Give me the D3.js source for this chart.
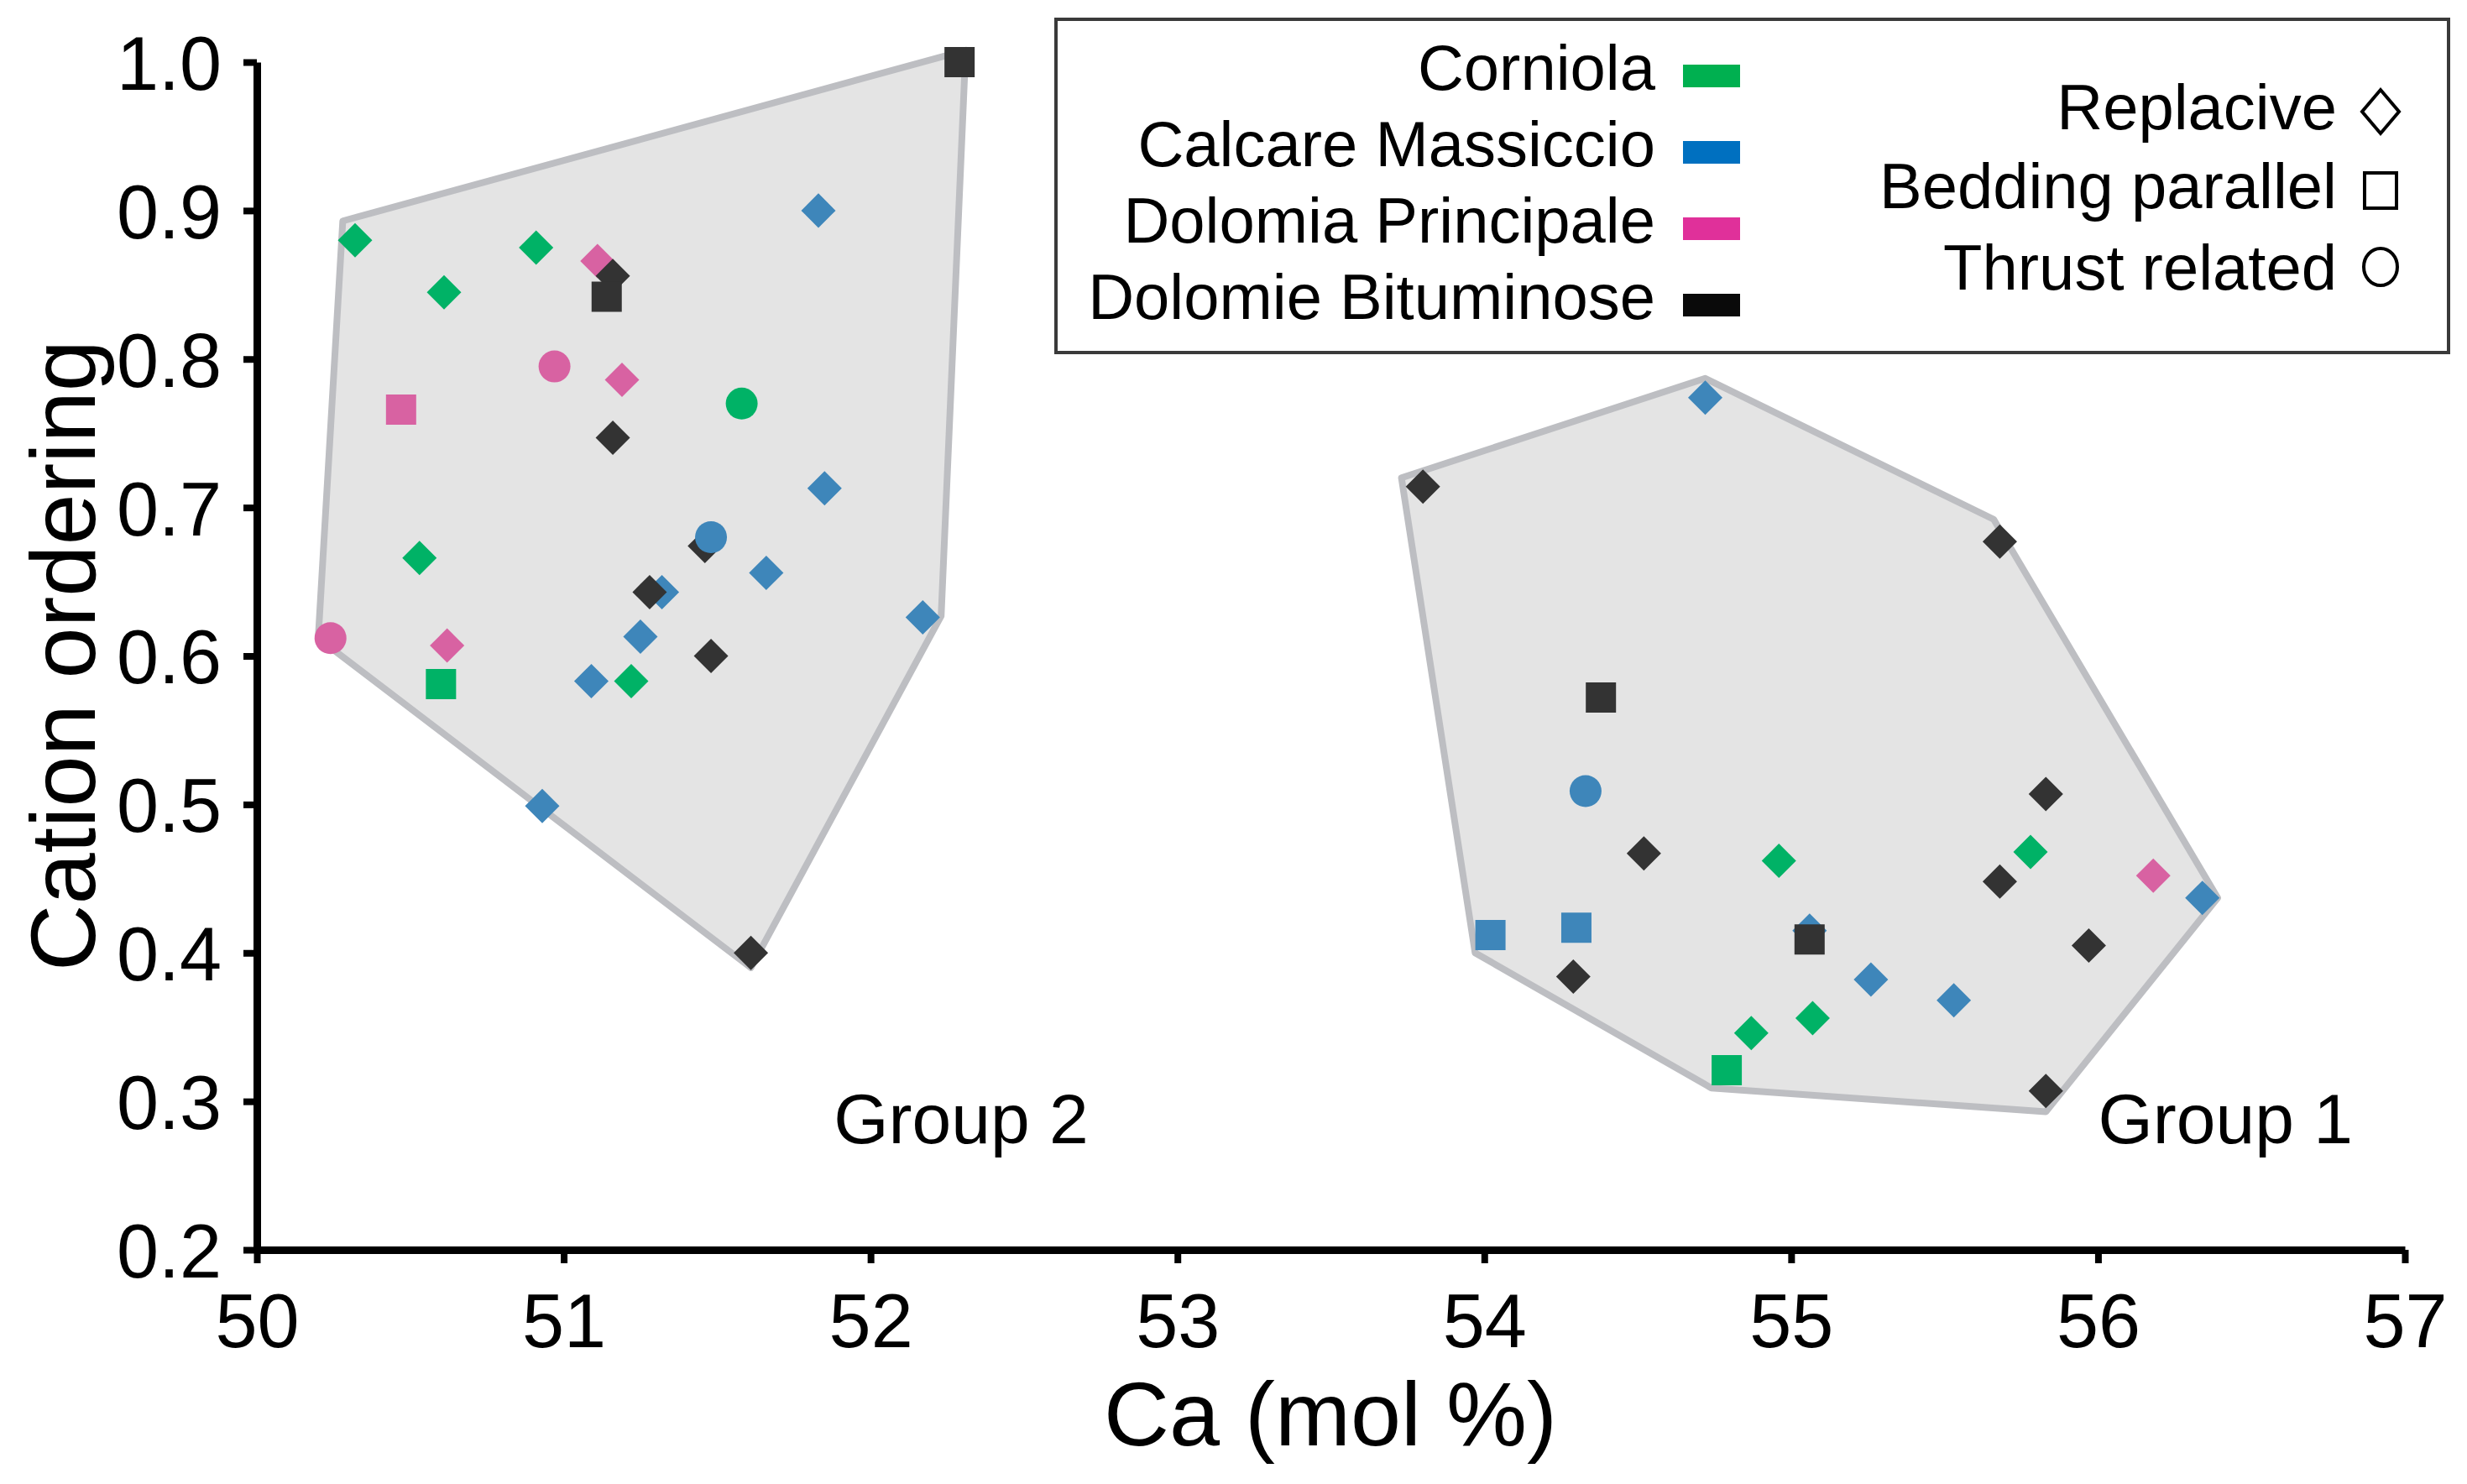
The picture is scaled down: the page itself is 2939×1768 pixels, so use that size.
<!DOCTYPE html>
<html><head><meta charset="utf-8">
<script src="https://cdn.jsdelivr.net/npm/d3@7"></script>
<style>
html,body{margin:0;padding:0;background:#fff;}
svg{display:block;font-family:"Liberation Sans",Arial,sans-serif;}
</style></head>
<body>
<svg id="chart" width="2939" height="1768"></svg>
<script>
// ---------- data (Ca mol %, cation ordering) ----------
const seriesNames = ["Corniola", "Calcare Massiccio", "Dolomia Principale", "Dolomie Bituminose"];
const typeNames = ["Replacive", "Bedding parallel", "Thrust related"];
const xTicks = [50, 51, 52, 53, 54, 55, 56, 57];
const yTicks = [0.2, 0.3, 0.4, 0.5, 0.6, 0.7, 0.8, 0.9, 1.0];

// [Ca, ordering, type]  type: R = replacive, B = bedding parallel, T = thrust related
const corniola = [
  [50.32,0.880,"R"],[50.91,0.875,"R"],[50.61,0.845,"R"],[50.53,0.666,"R"],[51.22,0.583,"R"],
  [54.96,0.462,"R"],[55.78,0.468,"R"],[55.07,0.356,"R"],[54.87,0.346,"R"],
  [50.60,0.581,"B"],[54.79,0.321,"B"],
  [51.58,0.770,"T"]
];
const calcareMassiccio = [
  [51.83,0.900,"R"],[51.85,0.713,"R"],[51.66,0.656,"R"],[51.32,0.643,"R"],[52.17,0.626,"R"],
  [51.25,0.613,"R"],[51.09,0.583,"R"],[50.93,0.499,"R"],[54.72,0.774,"R"],[56.34,0.437,"R"],
  [55.06,0.415,"R"],[55.26,0.382,"R"],[55.53,0.368,"R"],
  [54.02,0.412,"B"],[54.30,0.417,"B"],
  [51.48,0.680,"T"],[54.33,0.509,"T"]
];
const dolomiaPrincipale = [
  [51.11,0.866,"R"],[51.19,0.786,"R"],[50.62,0.607,"R"],[56.18,0.452,"R"],
  [50.47,0.766,"B"],
  [50.97,0.795,"T"],[50.24,0.612,"T"]
];
const dolomieBituminose = [
  [51.16,0.856,"R"],[51.16,0.747,"R"],[51.46,0.674,"R"],[51.28,0.643,"R"],[51.48,0.600,"R"],
  [51.61,0.400,"R"],[53.80,0.714,"R"],[55.68,0.677,"R"],[55.83,0.507,"R"],[54.52,0.467,"R"],
  [55.68,0.448,"R"],[55.97,0.405,"R"],[54.29,0.384,"R"],[55.83,0.307,"R"],
  [52.29,1.000,"B"],[51.14,0.842,"B"],[54.38,0.572,"B"],[55.06,0.409,"B"]
];
// convex hulls drawn around the two groups
const group2Hull = [[50.28,0.893],[52.31,1.008],[52.23,0.627],[51.61,0.390],[50.20,0.612]];
const group1Hull = [[53.73,0.720],[54.72,0.787],[55.66,0.692],[56.39,0.437],[55.83,0.293],[54.74,0.309],[53.97,0.400]];
const groupLabels = [["Group 2",51.88,0.272],["Group 1",56.0,0.272]];

// ---------- styles ----------
const pointColors = ["#00b266", "#3e86ba", "#d862a2", "#333333"];
const legendColors = ["#00b050", "#0070c0", "#e0309a", "#0a0a0a"];

const svg = d3.select("#chart");
const x = d3.scaleLinear().domain([50, 57]).range([306, 2865]);
const y = d3.scaleLinear().domain([0.2, 1.0]).range([1489, 74]);

// hulls
const line = d3.line().x(d => x(d[0])).y(d => y(d[1])).curve(d3.curveLinearClosed);
svg.selectAll("path.hull").data([group2Hull, group1Hull]).join("path")
  .attr("class","hull").attr("d", line)
  .attr("fill","#e4e4e4").attr("stroke","#bdbec2").attr("stroke-width",8)
  .attr("stroke-linejoin","round");

// group labels
svg.selectAll("text.glab").data(groupLabels).join("text")
  .attr("class","glab").attr("x", d => x(d[1])).attr("y", d => y(d[2]))
  .attr("font-size", 84).attr("fill","#000").text(d => d[0]);

// points
const allSeries = [calcareMassiccio, dolomiaPrincipale, dolomieBituminose, corniola];
const seriesIdx = [1, 2, 3, 0];
const symDiamond = d3.symbol(d3.symbolSquare, 29*29)();
const symSquare = d3.symbol(d3.symbolSquare, 36*36)();
const symCircle = d3.symbol(d3.symbolCircle, Math.PI*19*19)();
function shapeOf(t){ return t === "R" ? symDiamond : (t === "B" ? symSquare : symCircle); }

const pts = [];
["R","B"].forEach(t => {
  allSeries.forEach((arr, k) => arr.filter(d => d[2] === t).forEach(d => pts.push({d, c: seriesIdx[k]})));
});
allSeries.forEach((arr, k) => arr.filter(d => d[2] === "T").forEach(d => pts.push({d, c: seriesIdx[k]})));

svg.append("g").selectAll("path").data(pts).join("path")
  .attr("d", p => shapeOf(p.d[2]))
  .attr("transform", p => `translate(${x(p.d[0])},${y(p.d[1])})` + (p.d[2] === "R" ? " rotate(45)" : ""))
  .attr("fill", p => pointColors[p.c]);

// axes
const xAxis = d3.axisBottom(x).tickValues(xTicks).tickSize(16).tickSizeOuter(0).tickPadding(36)
  .tickFormat(d3.format("d"));
const yAxis = d3.axisLeft(y).tickValues(yTicks).tickSize(16).tickSizeOuter(0).tickPadding(26)
  .tickFormat(d3.format(".1f"));
const gx = svg.append("g").attr("transform", `translate(0,${y(0.2)})`).call(xAxis);
const gy = svg.append("g").attr("transform", `translate(${x(50)},0)`).call(yAxis);
[gx, gy].forEach(g => {
  g.select(".domain").attr("stroke","#000").attr("stroke-width",9);
  g.selectAll(".tick line").attr("stroke","#000").attr("stroke-width",8);
  g.selectAll(".tick text").attr("font-size",90).attr("fill","#000")
    .attr("font-family","'Liberation Sans',Arial,sans-serif");
});
gx.selectAll(".tick text").attr("dy","0.71em");
gy.selectAll(".tick text").attr("dy","0.36em");

// axis titles
svg.append("text").attr("x", 1585).attr("y", 1722).attr("text-anchor","middle")
  .attr("font-size",108).text("Ca (mol %)");
svg.append("text").attr("transform","translate(113,781) rotate(-90)").attr("text-anchor","middle")
  .attr("font-size",110).text("Cation ordering");

// legend
const lg = svg.append("g");
lg.append("rect").attr("x",1258).attr("y",23).attr("width",1659).attr("height",397)
  .attr("fill","#fff").attr("stroke","#3a3a3a").attr("stroke-width",4);
const legRows = [0,1,2,3];
lg.selectAll("text.ls").data(legRows).join("text").attr("class","ls")
  .attr("x",1972).attr("y", i => 107 + i*91).attr("text-anchor","end")
  .attr("font-size",76).text(i => seriesNames[i]);
lg.selectAll("rect.lm").data(legRows).join("rect").attr("class","lm")
  .attr("x",2005).attr("y", i => 77 + i*91).attr("width",68).attr("height",27)
  .attr("fill", i => legendColors[i]);
const typeRows = [0,1,2];
const typeBase = [154, 248, 345];
lg.selectAll("text.lt").data(typeRows).join("text").attr("class","lt")
  .attr("x",2784).attr("y", i => typeBase[i]).attr("text-anchor","end")
  .attr("font-size",76).text(i => typeNames[i]);
const sx = 2836;
lg.append("path").attr("d", `M${sx},${107} L${sx+22},${133} L${sx},${159} L${sx-22},${133} Z`)
  .attr("fill","none").attr("stroke","#000").attr("stroke-width",4);
lg.append("rect").attr("x",sx-19).attr("y",206).attr("width",38).attr("height",42)
  .attr("fill","none").attr("stroke","#000").attr("stroke-width",4);
lg.append("ellipse").attr("cx",sx).attr("cy",318).attr("rx",20).attr("ry",22)
  .attr("fill","none").attr("stroke","#000").attr("stroke-width",4);
</script>
</body></html>
